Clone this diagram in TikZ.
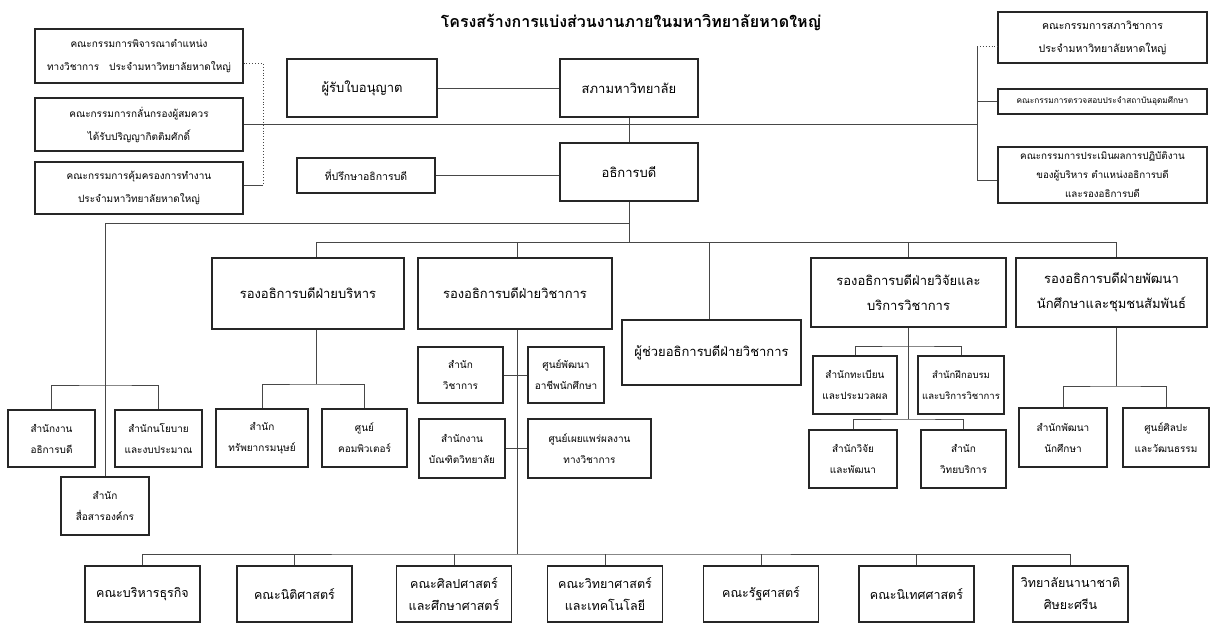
\documentclass[tikz,border=0pt]{standalone}
\usepackage{fontspec}
\newfontfamily\thai[Script=Thai]{Loma}
\newcommand\fsz[2]{\fontsize{#1}{#2}\selectfont}
\tikzset{
  box/.style={draw=black!85, line width=1.1pt, fill=white, align=center, inner sep=1pt, text=black},
  conn/.style={draw=black!72, line width=0.9pt},
  dotc/.style={draw=black!72, line width=0.9pt, dotted},
  tA/.style={font=\thai\fsz{13}{24}},
  tB/.style={font=\thai\fsz{10.5}{22}},
  tC/.style={font=\thai\fsz{10}{21}},
  tL/.style={font=\thai\fsz{10}{23}},
  tD/.style={font=\thai\fsz{13}{25}},
  tE/.style={font=\thai\fsz{12.5}{22}},
}
\begin{document}
\begin{tikzpicture}[x=1pt,y=-1pt]
\useasboundingbox (0,0) rectangle (1211,624);
% title
\node[font=\thai\bfseries\fsz{16}{20}] (title) at (631,22) {โครงสร้างการแบ่งส่วนงานภายในมหาวิทยาลัยหาดใหญ่};
% left committees
\node[box,tL,minimum width=208,minimum height=54] (L1) at (139,56) {คณะกรรมการพิจารณาตำแหน่ง\\ทางวิชาการ\quad ประจำมหาวิทยาลัยหาดใหญ่};
\node[box,tL,minimum width=208,minimum height=53] (L2) at (139,124.5) {คณะกรรมการกลั่นกรองผู้สมควร\\ได้รับปริญญากิตติมศักดิ์};
\node[box,tL,minimum width=208,minimum height=52] (L3) at (139,188) {คณะกรรมการคุ้มครองการทำงาน\\ประจำมหาวิทยาลัยหาดใหญ่};
% top centre
\node[box,tA,minimum width=150,minimum height=58] (lic) at (362,88) {ผู้รับใบอนุญาต};
\node[box,tA,minimum width=138,minimum height=58] (council) at (629,88) {สภามหาวิทยาลัย};
\node[box,tB,minimum width=138,minimum height=35] (adv) at (366,175.5) {ที่ปรึกษาอธิการบดี};
\node[box,tA,minimum width=138,minimum height=58] (pres) at (629,172) {อธิการบดี};
% right committees
\node[box,tL,font=\thai\fsz{10.5}{23},minimum width=209,minimum height=51] (R1) at (1102.5,37.5) {คณะกรรมการสภาวิชาการ\\ประจำมหาวิทยาลัยหาดใหญ่};
\node[box,font=\thai\fsz{8.3}{10},minimum width=209,minimum height=25] (R2) at (1102.5,101.5) {คณะกรรมการตรวจสอบประจำสถาบันอุดมศึกษา};
\node[box,minimum width=209,minimum height=56,font=\thai\fsz{9.8}{19}] (R3) at (1102.5,175) {คณะกรรมการประเมินผลการปฏิบัติงาน\\ของผู้บริหาร ตำแหน่งอธิการบดี\\และรองอธิการบดี};
% vice presidents
\node[box,tD,minimum width=192,minimum height=71] (vpA) at (308,293.5) {รองอธิการบดีฝ่ายบริหาร};
\node[box,tD,minimum width=194,minimum height=71] (vpB) at (515,293.5) {รองอธิการบดีฝ่ายวิชาการ};
\node[box,tD,minimum width=179,minimum height=65] (asst) at (711.5,352.5) {ผู้ช่วยอธิการบดีฝ่ายวิชาการ};
\node[box,tD,minimum width=195,minimum height=69] (vpR) at (908.5,292.5) {รองอธิการบดีฝ่ายวิจัยและ\\บริการวิชาการ};
\node[box,tD,minimum width=191,minimum height=69] (vpS) at (1111.5,292.5) {รองอธิการบดีฝ่ายพัฒนา\\นักศึกษาและชุมชนสัมพันธ์};
% president's offices
\node[box,tC,minimum width=87,minimum height=57] (op) at (51.5,438.5) {สำนักงาน\\อธิการบดี};
\node[box,tC,minimum width=87,minimum height=57] (pol) at (158.5,438.5) {สำนักนโยบาย\\และงบประมาณ};
\node[box,tC,minimum width=88,minimum height=58] (comm) at (105,506) {สำนัก\\สื่อสารองค์กร};
% administration
\node[box,tC,minimum width=92,minimum height=58] (hr) at (262,438) {สำนัก\\ทรัพยากรมนุษย์};
\node[box,tC,minimum width=85,minimum height=58] (comp) at (364.5,438) {ศูนย์\\คอมพิวเตอร์};
% academic
\node[box,tC,minimum width=85,minimum height=56] (ao) at (460.5,375) {สำนัก\\วิชาการ};
\node[box,tC,minimum width=76,minimum height=56] (car) at (566,375) {ศูนย์พัฒนา\\อาชีพนักศึกษา};
\node[box,tC,minimum width=86,minimum height=59] (grad) at (462,448.5) {สำนักงาน\\บัณฑิตวิทยาลัย};
\node[box,tC,minimum width=123,minimum height=59] (pub) at (589.5,448.5) {ศูนย์เผยแพร่ผลงาน\\ทางวิชาการ};
% research
\node[box,tC,minimum width=84,minimum height=58] (reg) at (855,385) {สำนักทะเบียน\\และประมวลผล};
\node[box,tC,font=\thai\fsz{9.5}{21},minimum width=86,minimum height=58] (tr) at (961,385) {สำนักฝึกอบรม\\และบริการวิชาการ};
\node[box,tC,minimum width=88,minimum height=58] (ro) at (853,459) {สำนักวิจัย\\และพัฒนา};
\node[box,tC,minimum width=85,minimum height=58] (lib) at (963.5,459) {สำนัก\\วิทยบริการ};
% student
\node[box,tC,minimum width=88,minimum height=59] (sd) at (1063,437.5) {สำนักพัฒนา\\นักศึกษา};
\node[box,tC,minimum width=86,minimum height=59] (art) at (1166,437.5) {ศูนย์ศิลปะ\\และวัฒนธรรม};
% faculties
\node[box,tE,minimum width=115,minimum height=56] (f1) at (142.5,594) {คณะบริหารธุรกิจ};
\node[box,tE,minimum width=115,minimum height=56] (f2) at (294.5,594) {คณะนิติศาสตร์};
\node[box,tE,minimum width=115,minimum height=56] (f3) at (454,594) {คณะศิลปศาสตร์\\และศึกษาศาสตร์};
\node[box,tE,minimum width=115,minimum height=56] (f4) at (605,594) {คณะวิทยาศาสตร์\\และเทคโนโลยี};
\node[box,tE,minimum width=115,minimum height=56] (f5) at (761,594) {คณะรัฐศาสตร์};
\node[box,tE,minimum width=115,minimum height=56] (f6) at (916.5,594) {คณะนิเทศศาสตร์};
\node[box,tE,minimum width=115,minimum height=56] (f7) at (1070.5,594) {วิทยาลัยนานาชาติ\\ศิษยะศรีน};
% junction coordinates
\coordinate (ltop) at (263,63);
\coordinate (lbot) at (263,185);
\coordinate (rj) at (977,124.5);
\coordinate (rtop) at (977,46);
\coordinate (rbot) at (977,180);
\coordinate (b1) at (629,223);
\coordinate (bus) at (629,242);
\coordinate (dA) at (316,242);
\coordinate (dB) at (517,242);
\coordinate (dC) at (709,242);
\coordinate (dD) at (908,242);
\coordinate (dE) at (1116,242);
\coordinate (lb) at (106,385);
\coordinate (aB) at (316,384);
\coordinate (fb) at (517,554);
\coordinate (rb1) at (908,346);
\coordinate (rb2) at (908,419);
\coordinate (sb) at (1116,386);
% top connectors
\draw[conn] (lic) -- (council);
\draw[conn] (council) -- (pres);
\draw[conn] (adv.east) -- (adv.east -| pres.west);
\draw[conn] (L2.east) -- (rj);
\draw[dotc] (ltop -| L1.east) -- (ltop) -- (lbot);
\draw[conn] (lbot -| L3.east) -- (lbot);
\draw[conn] (rtop) -- (rbot);
\draw[dotc] (rtop) -- (rtop -| R1.west);
\draw[conn] (R2.west -| rtop) -- (R2.west);
\draw[conn] (rbot) -- (rbot -| R3.west);
% president down
\draw[conn] (pres.south) -- (bus);
\draw[conn] (b1) -| (comm.north);
\draw[conn] (op.north) |- (lb) -| (pol.north);
\draw[conn] (dA) -- (dE);
\draw[conn] (dA) -- (dA |- vpA.north);
\draw[conn] (dB) -- (dB |- vpB.north);
\draw[conn] (dC) -- (dC |- asst.north);
\draw[conn] (dD) -- (dD |- vpR.north);
\draw[conn] (dE) -- (dE |- vpS.north);
% administration
\draw[conn] (vpA.south -| aB) -- (aB);
\draw[conn] (hr.north) |- (aB) -| (comp.north);
% academic
\draw[conn] (vpB.south -| fb) -- (fb);
\draw[conn] (ao.east) -- (ao.east -| car.west);
\draw[conn] (grad.east) -- (grad.east -| pub.west);
% research
\draw[conn] (vpR.south -| rb2) -- (rb2);
\draw[conn] (reg.north) |- (rb1) -| (tr.north);
\draw[conn] (ro.north) |- (rb2) -| (lib.north);
% student
\draw[conn] (vpS.south -| sb) -- (sb);
\draw[conn] (sd.north) |- (sb) -| (art.north);
% faculties
\draw[conn] (f1.north) |- (fb) -| (f7.north);
\foreach \f in {f2,f3,f4,f5,f6} \draw[conn] (\f.north) -- (\f.north |- fb);
\end{tikzpicture}
\end{document}
